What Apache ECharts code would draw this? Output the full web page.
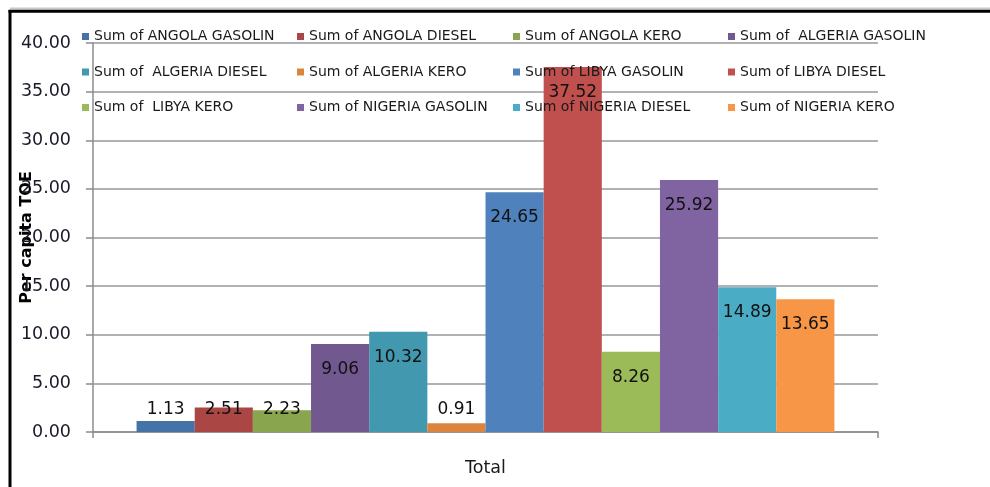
<!DOCTYPE html>
<html>
<head>
<meta charset="utf-8">
<script src="https://cdn.jsdelivr.net/npm/echarts@6/dist/echarts.min.js"></script>
<style>
html,body{margin:0;padding:0;background:#fff;overflow:hidden;}
#chart{width:990px;height:487px;}
</style>
</head>
<body>
<div id="chart"></div>
<script>
// ---- data ----
var categories = ['Total'];
var seriesNames = [
  'Sum of ANGOLA GASOLIN', 'Sum of ANGOLA DIESEL', 'Sum of ANGOLA KERO', 'Sum of  ALGERIA GASOLIN',
  'Sum of  ALGERIA DIESEL', 'Sum of ALGERIA KERO', 'Sum of LIBYA GASOLIN', 'Sum of LIBYA DIESEL',
  'Sum of  LIBYA KERO', 'Sum of NIGERIA GASOLIN', 'Sum of NIGERIA DIESEL', 'Sum of NIGERIA KERO'
];
var seriesValues = [1.13, 2.51, 2.23, 9.06, 10.32, 0.91, 24.65, 37.52, 8.26, 25.92, 14.89, 13.65];
var yTicks = { min: 0, max: 40, interval: 5 };
var yAxisTitle = 'Per capita TOE';

// ---- styles ----
var palette = ['#4572A7', '#AA4643', '#89A54E', '#71588F', '#4198AF', '#DB843D',
               '#4F81BD', '#C0504D', '#9BBB59', '#8064A2', '#4BACC6', '#F79646'];
var legendColX = [82, 297, 513, 728];
var legendRowCenterY = [36.5, 72, 107.5];
var FONT = 'DejaVu Sans';

var chart = echarts.init(document.getElementById('chart'), null, { renderer: 'canvas' });

var series = seriesNames.map(function (name, i) {
  var v = seriesValues[i];
  var small = v < 5;
  return {
    name: name,
    type: 'bar',
    data: [v],
    barGap: '0%',
    barCategoryGap: '11.1%',
    itemStyle: { color: palette[i] },
    label: {
      show: true,
      position: small ? 'insideBottom' : 'insideTop',
      distance: small ? 14 : 17,
      formatter: function (p) { return p.value.toFixed(2); },
      color: '#111',
      fontFamily: FONT,
      fontSize: 17,
      lineHeight: 17
    }
  };
});

var legends = seriesNames.map(function (name, i) {
  return {
    data: [name],
    left: legendColX[i % 4],
    top: legendRowCenterY[Math.floor(i / 4)] - 8,
    padding: 0,
    icon: 'rect',
    itemWidth: 7,
    itemHeight: 7,
    selectedMode: false,
    textStyle: { fontFamily: FONT, fontSize: 14, color: '#1a1a1a', lineHeight: 16 }
  };
});

var option = {
  backgroundColor: '#fff',
  animation: false,
  color: palette,
  legend: legends,
  grid: { left: 93, right: 112, top: 43, bottom: 55, containLabel: false, outerBoundsMode: 'none' },
  xAxis: {
    type: 'category',
    data: categories,
    axisLine: { show: true, lineStyle: { color: '#8c8c8c', width: 1.5 } },
    axisTick: { show: true, length: 6, lineStyle: { color: '#8c8c8c', width: 1.5 } },
    axisLabel: { margin: 27, fontFamily: FONT, fontSize: 17.5, color: '#1a1a1a' },
    splitLine: { show: false }
  },
  yAxis: {
    type: 'value',
    min: yTicks.min,
    max: yTicks.max,
    interval: yTicks.interval,
    name: yAxisTitle,
    nameLocation: 'middle',
    nameGap: 58,
    nameRotate: 90,
    nameMoveOverlap: false,
    nameTextStyle: { fontFamily: FONT, fontSize: 16, fontWeight: 'bold', color: '#000' },
    axisLine: { show: true, lineStyle: { color: '#8c8c8c', width: 1.5 } },
    axisTick: { show: true, inside: false, length: 7, lineStyle: { color: '#8c8c8c', width: 1.5 } },
    axisLabel: {
      margin: 22, fontFamily: FONT, fontSize: 17.5, color: '#1a1a2a',
      formatter: function (v) { return v.toFixed(2); }
    },
    splitLine: { show: true, lineStyle: { color: '#999', width: 1.5 } }
  },
  graphic: [
    { type: 'line', silent: true, z: 100,
      shape: { x1: 10, y1: 8.5, x2: 990, y2: 8.5 },
      style: { stroke: '#c8c8c8', lineWidth: 2 } },
    { type: 'line', silent: true, z: 100,
      shape: { x1: 8.5, y1: 11.3, x2: 990, y2: 11.3 },
      style: { stroke: '#000', lineWidth: 3 } },
    { type: 'line', silent: true, z: 100,
      shape: { x1: 10, y1: 10, x2: 10, y2: 487 },
      style: { stroke: '#000', lineWidth: 3 } }
  ],
  series: series
};

chart.setOption(option);
</script>
</body>
</html>
